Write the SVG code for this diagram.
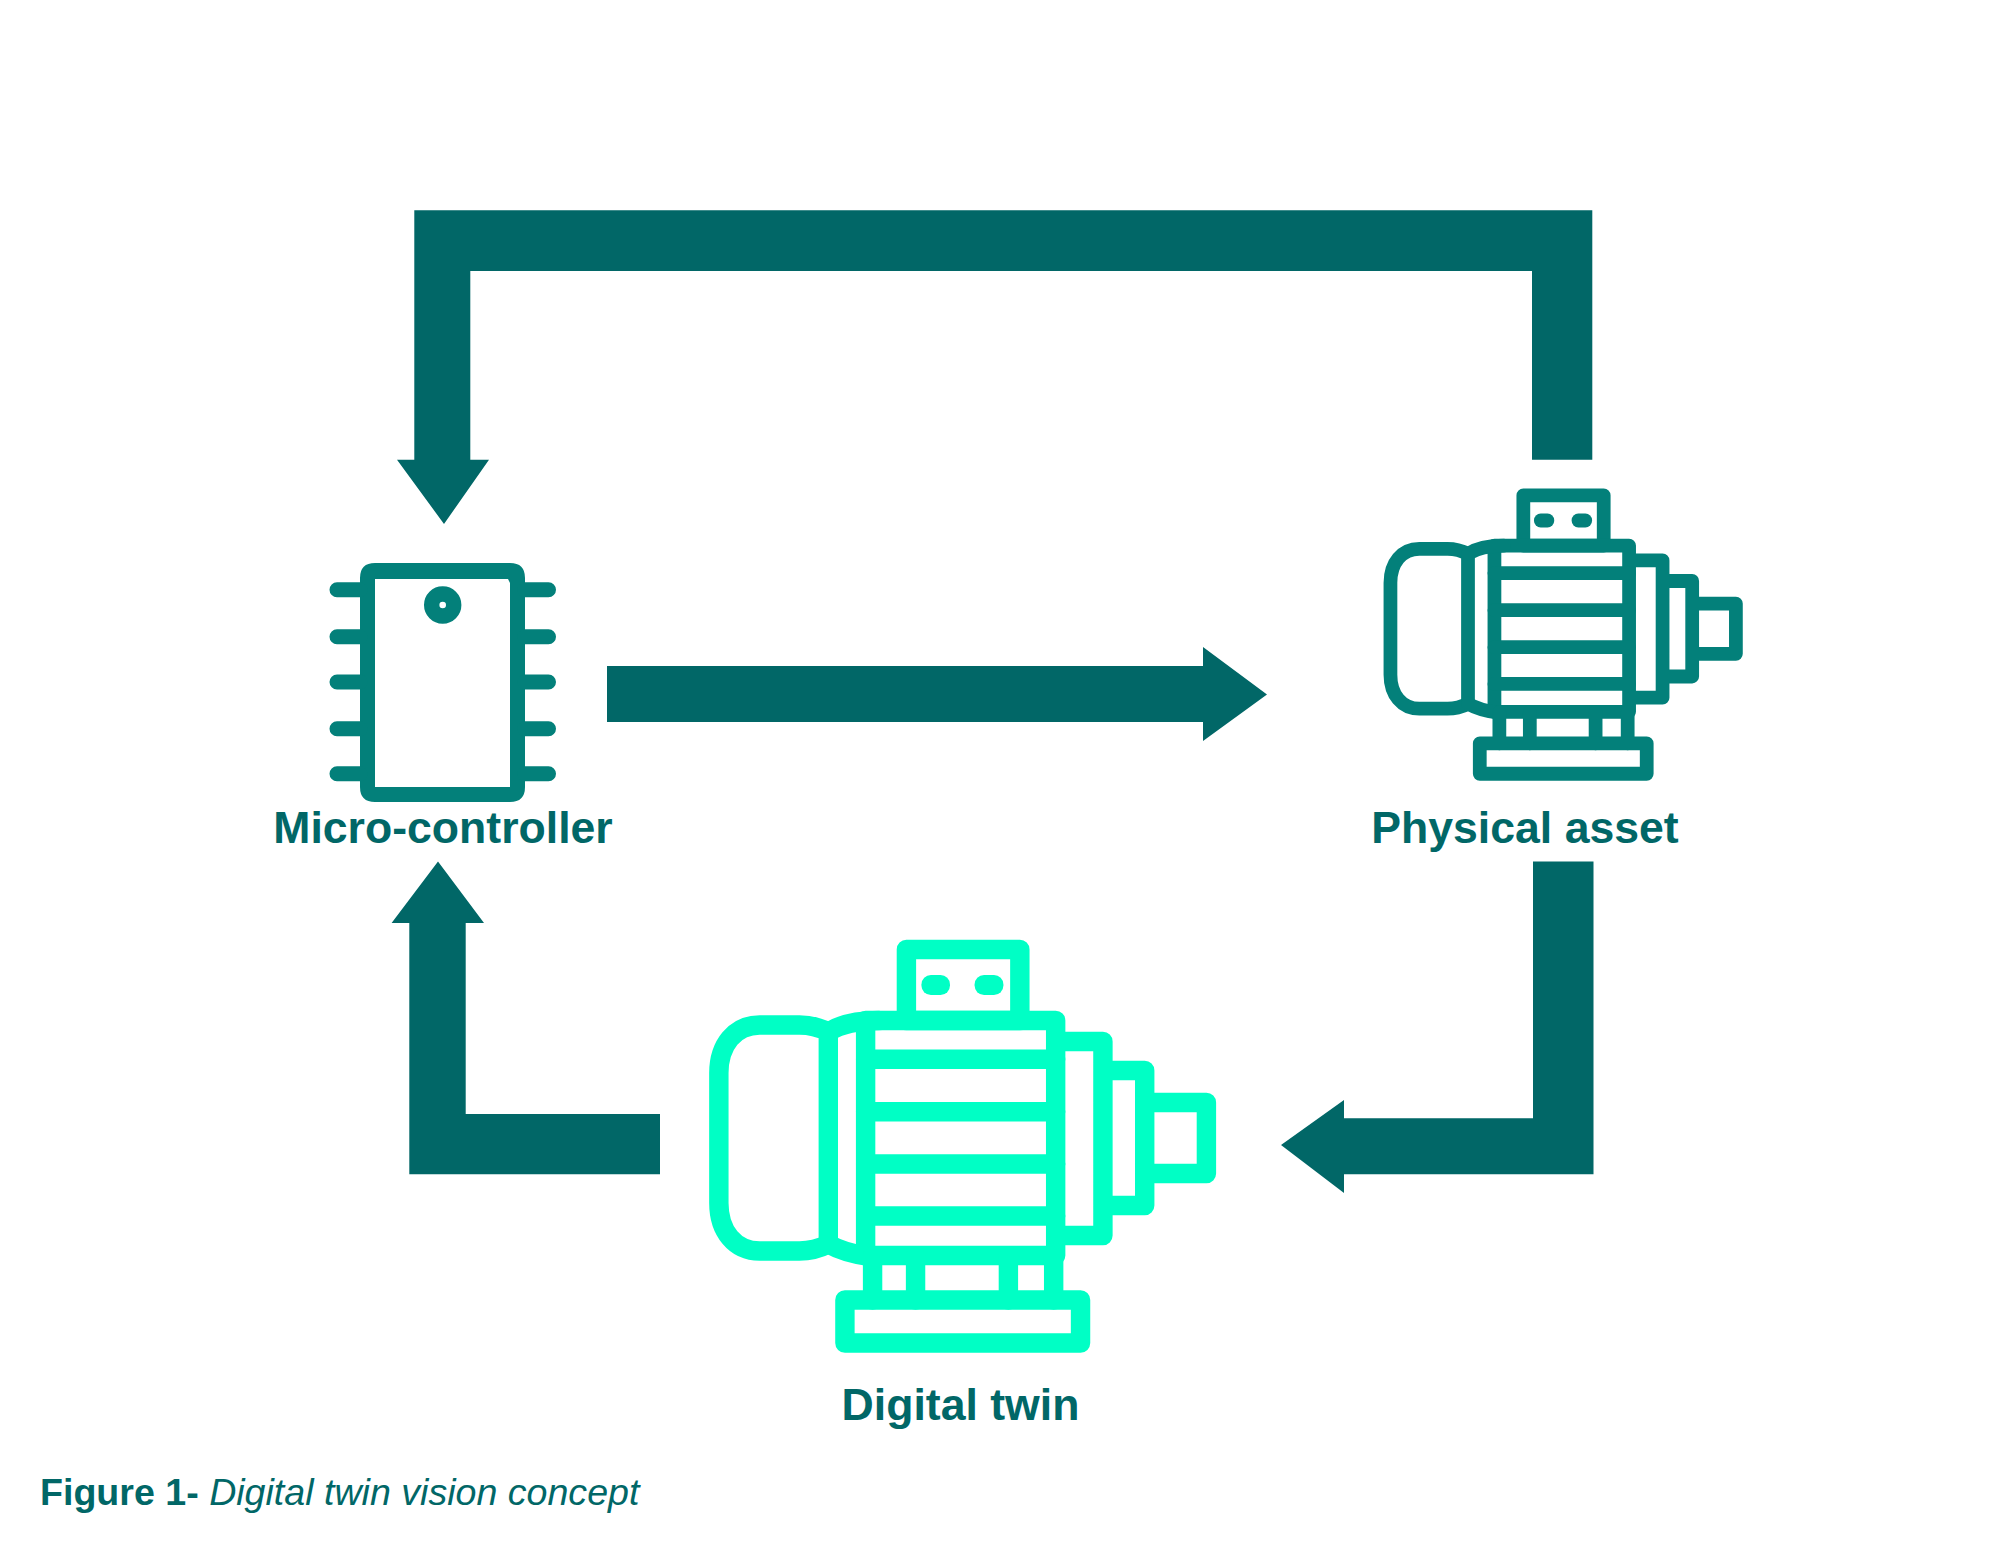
<svg xmlns="http://www.w3.org/2000/svg" xmlns:xlink="http://www.w3.org/1999/xlink" width="2013" height="1546" viewBox="0 0 2013 1546">
  <style>
    .conn { fill: #016767; }
    .label { font-family: "Liberation Sans", Arial, sans-serif; font-weight: 700; font-size: 44.6px; fill: #016767; text-anchor: middle; }
    .cap { font-family: "Liberation Sans", Arial, sans-serif; font-size: 37.6px; fill: #016767; }
    .ic { fill: none; stroke: currentColor; stroke-linejoin: round; stroke-linecap: round; }
    .teal { color: #03807A; }
    .mint { color: #00FFC5; }
  </style>
  <defs>
    <g id="motor">
      <g class="ic" stroke-width="19.5">
        <rect x="217.5" y="29.5" width="114" height="71" />
        <rect x="176.5" y="100.5" width="191" height="235" />
        <path d="M139,112 C129,107 120,105 110,105 L70,105 C45,105 29,125 29,153 L29,283 C29,311 45,331 70,331 L110,331 C120,331 129,329 139,324 Z" />
        <path d="M139,112 C150,105 165,100.5 190,100.5 M139,324 C150,330 163,334 178,336" />
        <path d="M176.500,139.300 H367.500 M176.500,191.700 H367.500 M176.500,244 H367.500 M176.500,296 H367.500" />
        <path d="M372,121.500 H415 V315.500 H372 M415,150.500 H457 V285.500 H415 M457,182.500 H519 V253.500 H457" />
        <path d="M183.500,336 V380 M226.700,336 V380 M320,336 V380 M365.500,336 V380" />
        <rect x="155.700" y="380" width="236.800" height="43" />
      </g>
      <rect x="232.600" y="55" width="28.700" height="20" rx="9.500" fill="currentColor" />
      <rect x="286" y="55" width="29" height="20" rx="9.500" fill="currentColor" />
    </g>
  </defs>

  <g id="connectors">
    <path id="physical-to-controller" class="conn" d="M414.300,210.300 H1592.300 V459.700 H1532 V271 H470.300 V459.700 H489 L444,524 L397,459.700 H414.300 Z" />
    <path id="controller-to-physical" class="conn" d="M607,666 H1203 V647 L1267,694.600 L1203,741 V722 H607 Z" />
    <path id="physical-to-twin" class="conn" d="M1533,861.600 H1593.500 V1174.300 H1344 V1193 L1281,1145 L1344,1100 V1118.300 H1533 Z" />
    <path id="twin-to-controller" class="conn" d="M660,1114 V1174.300 H409.300 V923 H391.600 L438,861.600 L484,923 H465.700 V1114 Z" />
  </g>

  <g id="micro-controller" class="teal">
    <path fill="currentColor" fill-rule="evenodd" d="M375,563 H510 Q525,563 525,578 V787 Q525,802 510,802 H375 Q360,802 360,787 V578 Q360,563 375,563 Z M375,579 V787 H510 V583 L508,579 Z" />
    <g class="ic" stroke-width="15">
      <path d="M337,589.700 H360 M337,636.700 H360 M337,682 H360 M337,728.700 H360 M337,773.700 H360" />
      <path d="M525,589.700 H548.500 M525,636.700 H548.500 M525,682 H548.500 M525,728.700 H548.500 M525,773.700 H548.500" />
      <circle cx="442.700" cy="605" r="11" stroke-width="15.400" />
    </g>
    <text class="label" x="443" y="843">Micro-controller</text>
  </g>

  <g id="physical-asset" class="teal">
    <use href="#motor" xlink:href="#motor" transform="translate(1370 474.500) scale(0.705 0.7075)" />
    <text class="label" x="1525" y="843">Physical asset</text>
  </g>

  <g id="digital-twin" class="mint">
    <use href="#motor" xlink:href="#motor" transform="translate(690 920) scale(0.995 1)" />
    <text class="label" x="960.500" y="1420">Digital twin</text>
  </g>

  <g id="caption">
    <text class="cap" x="40" y="1505"><tspan font-weight="700">Figure 1- </tspan><tspan font-style="italic">Digital twin vision concept</tspan></text>
  </g>
</svg>
